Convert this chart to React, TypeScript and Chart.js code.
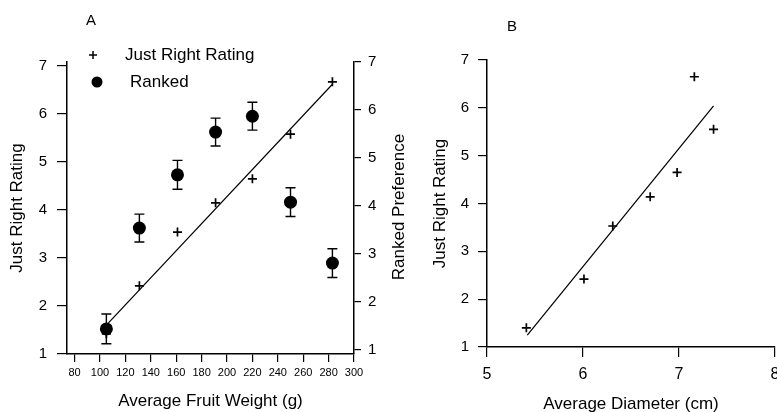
import React, { useEffect, useRef } from "react";
import { Chart, registerables } from "chart.js";

Chart.register(...registerables);

// ---------- Panel A data ----------
const WEIGHT_G = [105, 131, 161, 191, 220, 250, 283];
const RATING_A = [1.42, 2.42, 3.54, 4.15, 4.65, 5.58, 6.67];
const RANKED = [1.44, 3.54, 4.65, 5.54, 5.87, 4.08, 2.81];
const RANKED_ERR = [0.31, 0.29, 0.3, 0.29, 0.29, 0.3, 0.3];
const FIT_A_X = [105, 283];
const FIT_A_Y = [1.6, 6.62];
const WEIGHT_TICKS = [80, 100, 120, 140, 160, 180, 200, 220, 240, 260, 280, 300];
const RATING_TICKS = [1, 2, 3, 4, 5, 6, 7];

// ---------- Panel B data ----------
const DIAMETER_CM = [5.41, 6.01, 6.31, 6.7, 6.98, 7.16, 7.36];
const RATING_B = [1.4, 2.42, 3.53, 4.14, 4.65, 6.65, 5.55];
const FIT_B_X = [5.42, 7.36];
const FIT_B_Y = [1.25, 6.04];
const DIAMETER_TICKS = [5, 6, 7, 8];

// ---------- Text ----------
const LABEL_RATING = "Just Right Rating";
const LABEL_RANKED = "Ranked";
const TITLE_X_A = "Average Fruit Weight (g)";
const TITLE_X_B = "Average Diameter (cm)";
const TITLE_Y = "Just Right Rating";
const TITLE_Y2 = "Ranked Preference";

const FONT = "'Liberation Sans', Arial, Helvetica, sans-serif";
Chart.defaults.font.family = FONT;
Chart.defaults.color = "#000";

const setTicks = (vals: number[]) => (s: any) => {
  s.ticks = vals.map((v) => ({ value: v }));
};

const axisBase = (tickLen: number) => ({
  grid: { drawOnChartArea: false, drawTicks: true, tickLength: tickLen, color: "#000", lineWidth: 1.2 },
  border: { display: true, color: "#000", width: 1.5 },
});

const errorBarPlugin = {
  id: "errorBars",
  afterDatasetsDraw(chart: any) {
    const ctx = chart.ctx;
    chart.data.datasets.forEach((ds: any, di: number) => {
      if (!ds.errors) return;
      const meta = chart.getDatasetMeta(di);
      const ys = chart.scales[ds.yAxisID];
      ctx.save();
      ctx.strokeStyle = "#000";
      ctx.lineWidth = 1.4;
      meta.data.forEach((pt: any, i: number) => {
        const v = ds.data[i].y;
        const e = ds.errors[i];
        const yTop = ys.getPixelForValue(v + e);
        const yBot = ys.getPixelForValue(v - e);
        const x = pt.x;
        ctx.beginPath();
        ctx.moveTo(x, yTop);
        ctx.lineTo(x, yBot);
        ctx.moveTo(x - 5, yTop);
        ctx.lineTo(x + 5, yTop);
        ctx.moveTo(x - 5, yBot);
        ctx.lineTo(x + 5, yBot);
        ctx.stroke();
      });
      ctx.restore();
    });
  },
};

const decorA = {
  id: "decorA",
  afterDraw(chart: any) {
    const ctx = chart.ctx;
    ctx.save();
    ctx.fillStyle = "#000";
    ctx.strokeStyle = "#000";
    // panel letter
    ctx.font = `15px ${FONT}`;
    ctx.textAlign = "center";
    ctx.textBaseline = "middle";
    ctx.fillText("A", 91, 21);
    // legend
    ctx.lineWidth = 1.5;
    ctx.beginPath();
    ctx.moveTo(89, 55);
    ctx.lineTo(97, 55);
    ctx.moveTo(93, 51);
    ctx.lineTo(93, 59);
    ctx.stroke();
    ctx.beginPath();
    ctx.arc(97, 82, 5.5, 0, Math.PI * 2);
    ctx.fill();
    ctx.font = `17px ${FONT}`;
    ctx.textAlign = "left";
    ctx.fillText(LABEL_RATING, 125, 55);
    ctx.fillText(LABEL_RANKED, 130, 82);
    // right axis title
    ctx.translate(399, 207);
    ctx.rotate(-Math.PI / 2);
    ctx.textAlign = "center";
    ctx.fillText(TITLE_Y2, 0, 0);
    ctx.restore();
  },
};

const decorB = {
  id: "decorB",
  afterDraw(chart: any) {
    const ctx = chart.ctx;
    ctx.save();
    ctx.fillStyle = "#000";
    ctx.font = `15px ${FONT}`;
    ctx.textAlign = "center";
    ctx.textBaseline = "middle";
    ctx.fillText("B", 92, 27);
    ctx.restore();
  },
};

function ChartA() {
  const ref = useRef<HTMLCanvasElement>(null);
  useEffect(() => {
    const chart = new Chart(ref.current!, {
      type: "scatter",
      data: {
        datasets: [
          {
            label: LABEL_RATING,
            data: WEIGHT_G.map((x, i) => ({ x, y: RATING_A[i] })),
            pointStyle: "cross",
            pointRadius: 4.5,
            borderColor: "#000",
            borderWidth: 1.7,
            yAxisID: "y",
          },
          {
            label: "fit",
            data: FIT_A_X.map((x, i) => ({ x, y: FIT_A_Y[i] })),
            showLine: true,
            borderColor: "#000",
            borderWidth: 1.2,
            pointRadius: 0,
            yAxisID: "y",
          },
          {
            label: LABEL_RANKED,
            data: WEIGHT_G.map((x, i) => ({ x, y: RANKED[i] })),
            errors: RANKED_ERR,
            pointStyle: "circle",
            pointRadius: 6.5,
            backgroundColor: "#000",
            borderColor: "#000",
            borderWidth: 0,
            yAxisID: "y2",
          } as any,
        ],
      },
      options: {
        responsive: false,
        animation: false,
        layout: { padding: { top: 62, left: 0, right: 0, bottom: 0 } },
        plugins: { legend: { display: false }, tooltip: { enabled: false } },
        scales: {
          x: {
            type: "linear",
            min: 74,
            max: 300,
            afterBuildTicks: setTicks(WEIGHT_TICKS),
            afterFit: (s: any) => { s.height = 58; },
            ...axisBase(8),
            ticks: { font: { size: 11 }, color: "#000", padding: 4, maxRotation: 0, autoSkip: false },
            title: { display: true, text: TITLE_X_A, font: { size: 17 }, color: "#000", padding: { top: 0, bottom: 0 } },
          },
          y: {
            type: "linear",
            position: "left",
            min: 1,
            max: 7 + 4 / 48,
            afterBuildTicks: setTicks(RATING_TICKS),
            afterFit: (s: any) => { s.width = 67; },
            ...axisBase(10),
            ticks: { font: { size: 15 }, color: "#000", padding: 10 },
            title: { display: true, text: TITLE_Y, font: { size: 17 }, color: "#000", padding: { top: 6.8, bottom: 0 } },
          },
          y2: {
            type: "linear",
            position: "right",
            min: 1 - 4 / 48,
            max: 7,
            afterBuildTicks: setTicks(RATING_TICKS),
            afterFit: (s: any) => { s.width = 71; },
            ...axisBase(7),
            ticks: { font: { size: 15 }, color: "#000", padding: 7 },
          },
        },
      } as any,
      plugins: [errorBarPlugin, decorA],
    });
    return () => chart.destroy();
  }, []);
  return (
    <canvas
      ref={ref}
      width={425}
      height={412}
      style={{ position: "absolute", left: 0, top: 0, width: 425, height: 412 }}
    />
  );
}

function ChartB() {
  const ref = useRef<HTMLCanvasElement>(null);
  useEffect(() => {
    const chart = new Chart(ref.current!, {
      type: "scatter",
      data: {
        datasets: [
          {
            label: LABEL_RATING,
            data: DIAMETER_CM.map((x, i) => ({ x, y: RATING_B[i] })),
            pointStyle: "cross",
            pointRadius: 4.5,
            borderColor: "#000",
            borderWidth: 1.7,
          },
          {
            label: "fit",
            data: FIT_B_X.map((x, i) => ({ x, y: FIT_B_Y[i] })),
            showLine: true,
            borderColor: "#000",
            borderWidth: 1.2,
            pointRadius: 0,
          },
        ],
      },
      options: {
        responsive: false,
        animation: false,
        layout: { padding: { top: 60, left: 0, right: 15, bottom: 0 } },
        plugins: { legend: { display: false }, tooltip: { enabled: false } },
        scales: {
          x: {
            type: "linear",
            min: 5,
            max: 8,
            afterBuildTicks: setTicks(DIAMETER_TICKS),
            afterFit: (s: any) => { s.height = 69; },
            ...axisBase(10),
            ticks: { font: { size: 16 }, color: "#000", padding: 8, maxRotation: 0, autoSkip: false },
            title: { display: true, text: TITLE_X_B, font: { size: 17 }, color: "#000", padding: { top: 0, bottom: 1.8 } },
          },
          y: {
            type: "linear",
            position: "left",
            min: 1,
            max: 7,
            afterBuildTicks: setTicks(RATING_TICKS),
            afterFit: (s: any) => { s.width = 67; },
            ...axisBase(9),
            ticks: { font: { size: 15 }, color: "#000", padding: 9 },
            title: { display: true, text: TITLE_Y, font: { size: 17 }, color: "#000", padding: { top: 9.8, bottom: 0 } },
          },
        },
      } as any,
      plugins: [decorB],
    });
    return () => chart.destroy();
  }, []);
  return (
    <canvas
      ref={ref}
      width={370}
      height={416}
      style={{ position: "absolute", left: 420, top: 0, width: 370, height: 416 }}
    />
  );
}

export default function App() {
  return (
    <div
      style={{
        position: "fixed",
        left: 0,
        top: 0,
        width: 777,
        height: 412,
        overflow: "hidden",
        background: "#fff",
      }}
    >
      <ChartA />
      <ChartB />
    </div>
  );
}
